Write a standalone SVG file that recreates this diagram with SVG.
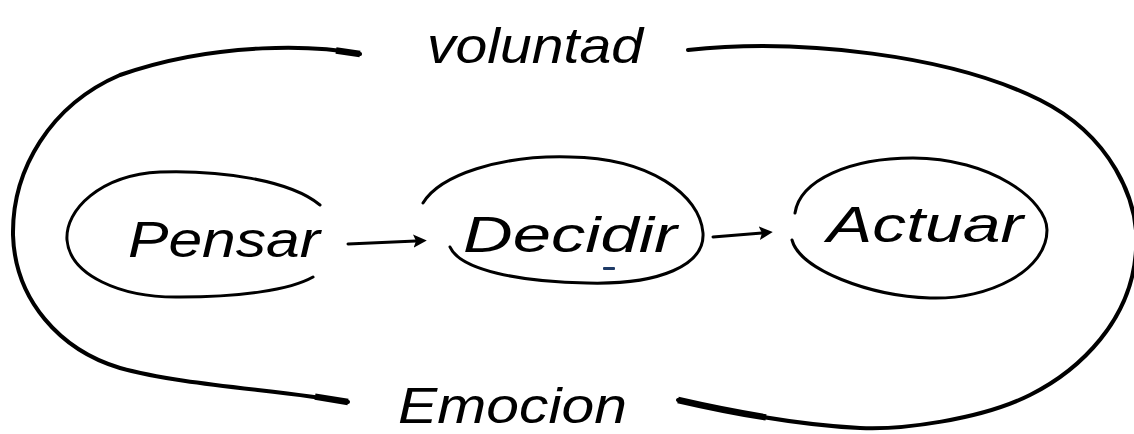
<svg xmlns="http://www.w3.org/2000/svg" width="1134" height="434" viewBox="0 0 1134 434">
<style>
.loop{fill:none;stroke:#000;stroke-width:4;stroke-linecap:round;stroke-linejoin:round}
.thick{fill:none;stroke:#000;stroke-width:6.5;stroke-linecap:butt}
.node{fill:none;stroke:#000;stroke-width:3;stroke-linecap:round}
.lbl{font-family:"Liberation Sans","DejaVu Sans",sans-serif;font-style:italic;font-size:50px;fill:#000}
.conn{fill:none;stroke:#000;stroke-width:3;stroke-linecap:round}
</style>
<defs>
<marker id="ah" viewBox="0 0 10 10" refX="2" refY="5" markerWidth="4.5" markerHeight="4.5" orient="auto" markerUnits="strokeWidth">
<path d="M0,0 L10,5 L0,10 L2,5 Z" fill="#000"/>
</marker>
</defs>
<rect width="1134" height="434" fill="#fff"/>
<g id="outer-loop">
<path class="loop" d="M360,54 C320,46 220,40 120,75 C50,105 12,170 13,235 C15,300 60,350 120,368 C180,385 280,390 348,402"/>
<path class="thick" d="M315,396.6 L348,402"/>
<path class="thick" d="M336,50.5 L360,54"/>
<path class="loop" d="M688,50 C800,38 950,55 1040,100 C1110,135 1140,200 1136,250 C1132,320 1080,370 1030,395 C980,420 900,430 860,428 C800,425 730,412 678,400"/>
<path class="thick" d="M766,417.4 C734.5,412.25 704,406 678,400"/>
</g>
<g id="voluntad"><text class="lbl" x="427" y="63" textLength="216" lengthAdjust="spacingAndGlyphs">voluntad</text></g>
<g id="emocion"><text class="lbl" x="398" y="423" textLength="229" lengthAdjust="spacingAndGlyphs">Emocion</text></g>
<g id="pensar">
<path class="node" d="M320,205 C290,180 220,170 160,172 C100,175 65,210 67,240 C70,275 120,298 180,297 C240,297 290,290 313,277"/>
<text class="lbl" x="128" y="257" textLength="192" lengthAdjust="spacingAndGlyphs">Pensar</text>
</g>
<g id="decidir">
<path class="node" d="M423,203 C440,175 500,155 570,157 C650,158 700,195 703,233 C705,265 660,285 587,283 C520,282 460,270 450,247"/>
<text class="lbl" x="463" y="252" textLength="214" lengthAdjust="spacingAndGlyphs">Decidir</text>
<rect x="603" y="267" width="12" height="3" rx="1" fill="#1e3a66"/>
</g>
<g id="actuar">
<path class="node" d="M795,213 C800,180 850,158 913,158 C990,158 1047,200 1047,230 C1047,270 990,300 930,298 C870,296 800,270 792,240"/>
<text class="lbl" x="827" y="242" textLength="196" lengthAdjust="spacingAndGlyphs">Actuar</text>
</g>
<g id="connectors">
<path class="conn" d="M348,244 L416,241" marker-end="url(#ah)"/>
<path class="conn" d="M713,237 L762,233" marker-end="url(#ah)"/>
</g>
</svg>
